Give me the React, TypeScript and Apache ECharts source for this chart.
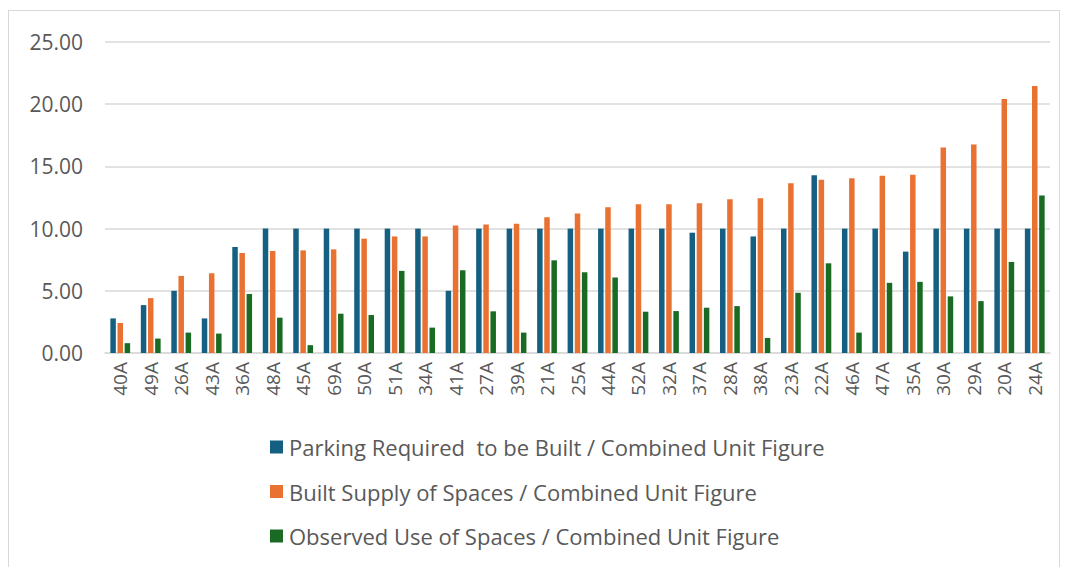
import React, { useEffect, useRef } from "react";
import * as echarts from "echarts";

const categories = ["40A","49A","26A","43A","36A","48A","45A","69A","50A","51A","34A","41A","27A","39A","21A","25A","44A","52A","32A","37A","28A","38A","23A","22A","46A","47A","35A","30A","29A","20A","24A"];
const required = [2.78,3.85,5.0,2.78,8.52,10,10,10,10,10,10,5.0,10,10,10,10,10,10,10,9.67,10,9.37,10,14.28,10,10,8.15,10,10,10,10];
const supply = [2.41,4.41,6.2,6.41,8.04,8.2,8.25,8.33,9.19,9.37,9.37,10.25,10.33,10.39,10.92,11.21,11.72,11.96,11.96,12.04,12.36,12.44,13.64,13.93,14.04,14.25,14.33,16.52,16.76,20.42,21.46];
const observed = [0.79,1.16,1.64,1.56,4.74,2.84,0.63,3.16,3.05,6.6,2.04,6.65,3.35,1.64,7.45,6.49,6.07,3.32,3.37,3.64,3.77,1.21,4.84,7.21,1.64,5.64,5.72,4.55,4.17,7.32,12.66];
const seriesNames = [
  "Parking Required  to be Built / Combined Unit Figure",
  "Built Supply of Spaces / Combined Unit Figure",
  "Observed Use of Spaces / Combined Unit Figure",
];
const colors = ["#156082", "#E97132", "#196B24"];

export default function App() {
  const ref = useRef<HTMLDivElement>(null);
  useEffect(() => {
    if (!ref.current) return;
    const chart = echarts.init(ref.current, null, { renderer: "svg" });
    const font = "Open Sans";
    const mk = (name: string, data: number[], color: string) => ({
      name,
      type: "bar",
      data,
      barWidth: 5.5,
      barGap: "30%",
      itemStyle: { color },
    });
    chart.setOption({
      animation: false,
      textStyle: { fontFamily: font },
      color: colors,
      grid: { left: 96, right: 9, top: 31, bottom: 214, containLabel: false },
      legend: {
        orient: "vertical",
        left: 256,
        top: 416,
        itemWidth: 13,
        itemHeight: 13,
        itemGap: 14.5,
        icon: "rect",
        textStyle: { fontSize: 22, lineHeight: 30, color: "#595959", fontFamily: font, padding: [0, 0, 0, 1] },
        data: seriesNames,
      },
      xAxis: {
        type: "category",
        data: categories,
        axisTick: { show: false },
        axisLine: { lineStyle: { color: "#d9d9d9", width: 1.5 } },
        axisLabel: { rotate: 90, fontSize: 19, color: "#595959", margin: 9, interval: 0, fontFamily: font },
      },
      yAxis: {
        type: "value",
        min: 0,
        max: 25,
        interval: 5,
        axisLine: { show: false },
        axisTick: { show: false },
        splitLine: { lineStyle: { color: "#d9d9d9", width: 1.5 } },
        axisLabel: { fontSize: 21, color: "#595959", margin: 22, fontFamily: font, formatter: (v: number) => v.toFixed(2) },
      },
      series: [
        mk(seriesNames[0], required, colors[0]),
        mk(seriesNames[1], supply, colors[1]),
        mk(seriesNames[2], observed, colors[2]),
      ],
    });
    return () => chart.dispose();
  }, []);
  return (
    <div
      ref={ref}
      style={{
        width: 1052,
        height: 557,
        marginTop: 2,
        borderTop: "1px solid #d9d9d9",
        borderLeft: "1px solid #d9d9d9",
        borderRight: "1px solid #d9d9d9",
        boxSizing: "border-box",
        background: "#fff",
      }}
    />
  );
}
